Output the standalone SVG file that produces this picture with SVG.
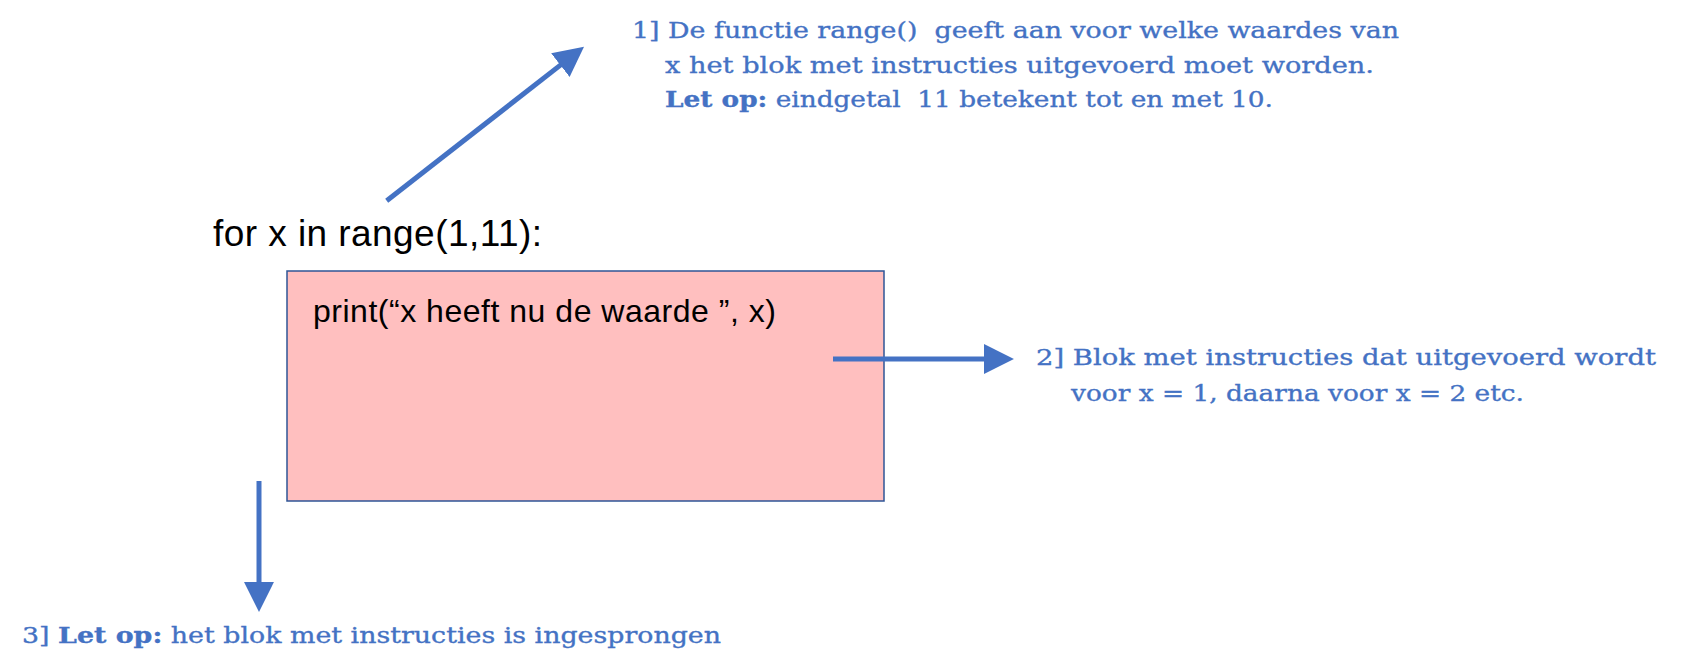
<svg xmlns="http://www.w3.org/2000/svg" width="1691" height="672" viewBox="0 0 1691 672">
<style>
.code{font-family:"Liberation Sans",Arial,sans-serif;fill:#000}
.note{font-family:"DejaVu Serif","Liberation Serif",serif;font-size:23px;fill:#4472C4;stroke:#4472C4;stroke-width:0.35}
.b{font-weight:bold}
.conn{stroke:#4472C4;stroke-width:5;fill:none;marker-end:url(#ah)}
</style>
<defs>
<marker id="ah" markerUnits="userSpaceOnUse" markerWidth="30" markerHeight="30" viewBox="0 0 29 29" refX="2" refY="14.5" orient="auto">
<path d="M0,0 L29,14.5 L0,29 Z" fill="#4472C4"/>
</marker>
</defs>
<rect width="1691" height="672" fill="#fff"/>
<g id="for-line">
<text class="code" x="213" y="246" font-size="37" textLength="329" lengthAdjust="spacing">for x in range(1,11):</text>
</g>
<g id="block">
<rect x="287" y="271" width="597" height="230" fill="#FFBFBF" stroke="#2F5597" stroke-width="1.5"/>
<text class="code" x="313" y="322" font-size="32" textLength="463" lengthAdjust="spacing">print(“x heeft nu de waarde ”, x)</text>
</g>
<g id="note1">
<text class="note" x="632" y="38" textLength="767" lengthAdjust="spacingAndGlyphs" xml:space="preserve">1] De functie range()  geeft aan voor welke waardes van</text>
<text class="note" x="665" y="72.5" textLength="709" lengthAdjust="spacingAndGlyphs">x het blok met instructies uitgevoerd moet worden.</text>
<text class="note" x="665" y="107" textLength="608" lengthAdjust="spacingAndGlyphs" xml:space="preserve"><tspan class="b">Let op:</tspan> eindgetal  11 betekent tot en met 10.</text>
</g>
<g id="note2">
<text class="note" x="1036" y="365" textLength="620" lengthAdjust="spacingAndGlyphs">2] Blok met instructies dat uitgevoerd wordt</text>
<text class="note" x="1071" y="401" textLength="453" lengthAdjust="spacingAndGlyphs">voor x = 1, daarna voor x = 2 etc.</text>
</g>
<g id="note3">
<text class="note" x="22" y="643" textLength="699" lengthAdjust="spacingAndGlyphs">3] <tspan class="b">Let op:</tspan> het blok met instructies is ingesprongen</text>
</g>
<g id="connectors">
<line class="conn" x1="386.7" y1="200.7" x2="562" y2="63.9"/>
<line class="conn" x1="833" y1="359" x2="986" y2="359"/>
<line class="conn" x1="259" y1="481" x2="259" y2="584"/>
</g>
</svg>
